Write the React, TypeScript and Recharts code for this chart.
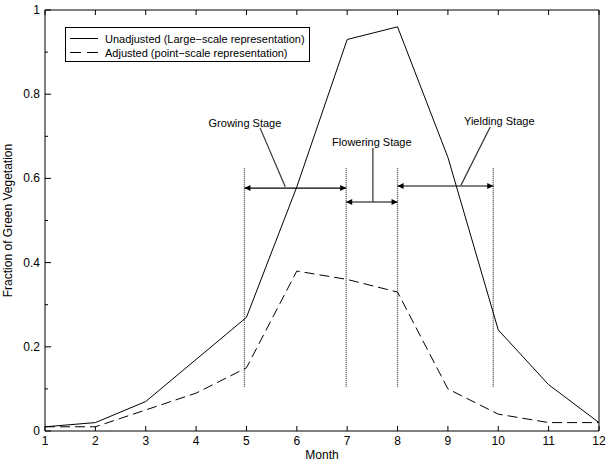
import {
  LineChart,
  Line,
  XAxis,
  YAxis,
  Legend,
  ReferenceLine,
  ReferenceDot,
} from 'recharts'

const months = [1, 2, 3, 4, 5, 6, 7, 8, 9, 10, 11, 12]
const unadjusted = [0.01, 0.02, 0.07, 0.17, 0.27, 0.58, 0.93, 0.96, 0.65, 0.24, 0.11, 0.02]
const adjusted = [0.01, 0.01, 0.05, 0.09, 0.15, 0.38, 0.36, 0.33, 0.1, 0.04, 0.02, 0.02]
const seriesNames = ['Unadjusted (Large−scale representation)', 'Adjusted (point−scale representation)']
const yTicks = [0, 0.1, 0.2, 0.3, 0.4, 0.5, 0.6, 0.7, 0.8, 0.9, 1]

// stage boundaries (month) and the span of the dotted markers
const stageBounds = [4.96, 6.98, 8, 9.9]
const boundLow = 0.105
const boundHigh = 0.625

// stage annotations: arrow span, arrow level, label, label position, leader line
const stages = [
  { name: 'Growing Stage', from: 4.96, to: 6.98, level: 0.577, tx: 4.97, ty: 0.732, l1: [5.27, 0.72], l2: [5.77, 0.58] },
  { name: 'Flowering Stage', from: 6.98, to: 8, level: 0.544, tx: 7.49, ty: 0.686, l1: [7.51, 0.672], l2: [7.51, 0.544] },
  { name: 'Yielding Stage', from: 8, to: 9.9, level: 0.582, tx: 10.02, ty: 0.736, l1: [9.84, 0.722], l2: [9.26, 0.584] },
]

const data = months.map((m, i) => ({ month: m, unadjusted: unadjusted[i], adjusted: adjusted[i] }))

const FONT = '"Liberation Sans", Arial, sans-serif'

const fmt = (v: number) => String(Math.round(v * 10) / 10)
const isMajor = (v: number) => Math.round(v * 10) % 2 === 0

function BottomTick({ x, y, payload }: any) {
  return (
    <g>
      <line x1={x} x2={x} y1={y} y2={y - 5} stroke='#000' />
      <text x={x} y={y + 14} textAnchor='middle' fontSize={12} fontFamily={FONT} fill='#000'>
        {payload.value}
      </text>
    </g>
  )
}

function TopTick({ x, y }: any) {
  return <line x1={x} x2={x} y1={y} y2={y + 5} stroke='#000' />
}

function LeftTick({ x, y, payload }: any) {
  const major = isMajor(payload.value)
  return (
    <g>
      <line x1={x} x2={x + (major ? 6 : 3)} y1={y} y2={y} stroke='#000' />
      {major && (
        <text x={x - 5} y={y + 4} textAnchor='end' fontSize={12} fontFamily={FONT} fill='#000'>
          {fmt(payload.value)}
        </text>
      )}
    </g>
  )
}

function RightTick({ x, y, payload }: any) {
  const major = isMajor(payload.value)
  return <line x1={x} x2={x - (major ? 6 : 3)} y1={y} y2={y} stroke='#000' />
}

function Arrow(props: any) {
  const { x1, y1, x2, y2 } = props
  const h = 6
  const w = 3
  return (
    <g>
      <line x1={x1} y1={y1} x2={x2} y2={y2} stroke='#000' strokeWidth={1.2} />
      <polygon points={`${x1},${y1} ${x1 + h},${y1 - w} ${x1 + h},${y1 + w}`} fill='#000' />
      <polygon points={`${x2},${y2} ${x2 - h},${y2 - w} ${x2 - h},${y2 + w}`} fill='#000' />
    </g>
  )
}

function LegendBox({ payload }: any) {
  const items = [...(payload || [])].sort(
    (a: any, b: any) => seriesNames.indexOf(a.value) - seriesNames.indexOf(b.value),
  )
  return (
    <svg width={246} height={36} style={{ display: 'block' }}>
      <rect x={0.5} y={0.5} width={244} height={34} fill='#fff' stroke='#000' />
      {items.map((e: any, i: number) => (
        <g key={e.value}>
          <line
            x1={5}
            x2={33}
            y1={11.5 + i * 14}
            y2={11.5 + i * 14}
            stroke='#000'
            strokeDasharray={e.payload?.strokeDasharray ? '11 6' : undefined}
          />
          <text x={40} y={15.5 + i * 14} fontSize={11} fontFamily={FONT} fill='#000'>
            {e.value}
          </text>
        </g>
      ))}
    </svg>
  )
}

export default function App() {
  return (
    <div style={{ position: 'absolute', left: 0, top: 0, background: '#fff' }}>
      <LineChart
        width={611}
        height={462}
        data={data}
        margin={{ top: 0, right: 0, bottom: 0, left: 0 }}
        style={{ fontFamily: FONT }}
      >
        <XAxis
          dataKey='month'
          type='number'
          domain={[1, 12]}
          ticks={months}
          height={31}
          tickSize={0}
          tickMargin={0}
          tick={<BottomTick />}
          axisLine={{ stroke: '#000' }}
          tickLine={false}
          label={{ value: 'Month', position: 'insideBottom', offset: 3, fontSize: 12, fill: '#000' }}
        />
        <XAxis
          xAxisId='t'
          orientation='top'
          dataKey='month'
          type='number'
          domain={[1, 12]}
          ticks={months}
          height={10}
          tickSize={0}
          tickMargin={0}
          tick={<TopTick />}
          axisLine={{ stroke: '#000' }}
          tickLine={false}
        />
        <YAxis
          type='number'
          domain={[0, 1]}
          ticks={yTicks}
          width={45}
          tickSize={0}
          tickMargin={0}
          tick={<LeftTick />}
          axisLine={{ stroke: '#000' }}
          tickLine={false}
          label={{
            value: 'Fraction of Green Vegetation',
            angle: -90,
            position: 'insideLeft',
            offset: 8,
            fontSize: 12,
            fill: '#000',
            style: { textAnchor: 'middle' },
          }}
        />
        <YAxis
          yAxisId='r'
          orientation='right'
          type='number'
          domain={[0, 1]}
          ticks={yTicks}
          width={12}
          tickSize={0}
          tickMargin={0}
          tick={<RightTick />}
          axisLine={{ stroke: '#000' }}
          tickLine={false}
        />
        <Legend
          layout='horizontal'
          verticalAlign='middle'
          align='center'
          content={<LegendBox />}
          wrapperStyle={{ position: 'absolute', left: 65, top: 27, width: 246, height: 36 }}
        />
        {stageBounds.map((b) => (
          <ReferenceLine
            key={`b-${b}`}
            segment={[
              { x: b, y: boundLow },
              { x: b, y: boundHigh },
            ]}
            stroke='#444'
            strokeDasharray='1 1'
            strokeWidth={1.3}
          />
        ))}
        {stages.map((s) => (
          <ReferenceLine
            key={`a-${s.name}`}
            segment={[
              { x: s.from, y: s.level },
              { x: s.to, y: s.level },
            ]}
            shape={<Arrow />}
          />
        ))}
        {stages.map((s) => (
          <ReferenceLine
            key={`l-${s.name}`}
            segment={[
              { x: s.l1[0], y: s.l1[1] },
              { x: s.l2[0], y: s.l2[1] },
            ]}
            stroke='#333'
            strokeWidth={1.2}
          />
        ))}
        {stages.map((s) => (
          <ReferenceDot
            key={`t-${s.name}`}
            x={s.tx}
            y={s.ty}
            shape={(p: any) => (
              <text x={p.cx} y={p.cy + 4} textAnchor='middle' fontSize={11} fontFamily={FONT} fill='#000'>
                {s.name}
              </text>
            )}
          />
        ))}
        <Line
          type='linear'
          dataKey='unadjusted'
          name={seriesNames[0]}
          stroke='#000'
          strokeWidth={1}
          dot={false}
          isAnimationActive={false}
        />
        <Line
          type='linear'
          dataKey='adjusted'
          name={seriesNames[1]}
          stroke='#000'
          strokeWidth={1}
          strokeDasharray='10 5'
          dot={false}
          isAnimationActive={false}
        />
      </LineChart>
    </div>
  )
}
